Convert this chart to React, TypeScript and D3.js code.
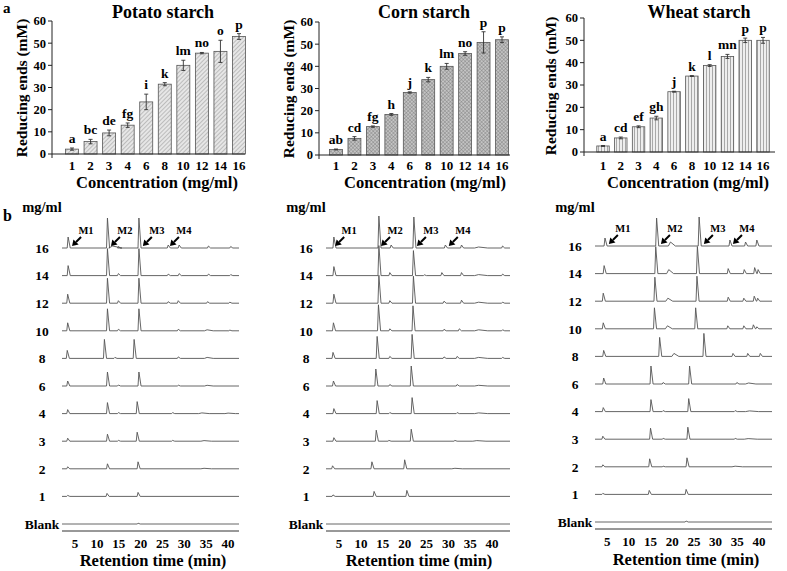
import React from 'react';
import * as d3 from 'd3';

// ---- panel a: reducing ends vs concentration ----
const concentrations = ['1', '2', '3', '4', '6', '8', '10', '12', '14', '16'];

const potatoMeans = [2.2, 5.6, 9.5, 13.0, 23.5, 31.5, 40.0, 45.5, 46.3, 53.0];
const potatoErrs = [0.5, 1.0, 1.3, 1.0, 3.5, 0.7, 2.3, 0.3, 5.0, 1.3];
const potatoLetters = ['a', 'bc', 'de', 'fg', 'i', 'k', 'lm', 'no', 'o', 'p'];

const cornMeans = [2.5, 7.5, 12.8, 18.3, 28.2, 34.0, 40.0, 45.8, 50.8, 52.0];
const cornErrs = [0.2, 0.8, 0.3, 0.4, 0.3, 1.0, 1.3, 0.8, 4.8, 1.3];
const cornLetters = ['ab', 'cd', 'fg', 'h', 'j', 'k', 'lm', 'no', 'p', 'p'];

const wheatMeans = [2.7, 6.3, 11.3, 15.2, 27.0, 34.0, 38.7, 42.8, 50.0, 50.0];
const wheatErrs = [0.2, 0.4, 0.4, 0.8, 0.2, 0.2, 0.4, 0.9, 1.0, 1.3];
const wheatLetters = ['a', 'cd', 'ef', 'gh', 'j', 'k', 'l', 'mn', 'p', 'p'];

const yTicks = [0, 10, 20, 30, 40, 50, 60];

// ---- panel b: chromatograms ----
const rowLabels = ['16', '14', '12', '10', '8', '6', '4', '3', '2', '1', 'Blank'];
const rtTicks = [5, 10, 15, 20, 25, 30, 35, 40];
const markerNames = ['M1', 'M2', 'M3', 'M4'];

// [retention time (min), signal, width]
type Peak = [number, number, number?];

const potatoPeaks: Peak[][] = [
  [[3.4, 11], [12.4, 30], [13.6, 2, 1.5], [14.9, 1.5], [19.6, 30], [26.3, 3], [28.8, 3], [35.5, 2], [40.6, 1.5]],
  [[3.4, 10], [12.4, 27], [14.9, 2], [19.6, 27], [26.3, 1.5], [28.8, 2], [35.5, 1.5], [40.6, 1]],
  [[3.3, 9], [12.4, 25], [14.9, 2.5], [19.6, 25], [26.3, 1.5], [28.6, 2.5], [35.3, 1.5], [40.4, 1]],
  [[3.3, 8], [12.4, 22], [14.9, 1.5], [19.6, 22], [28.6, 1.5], [35.2, 1, 1], [40.4, 0.7]],
  [[3.2, 8], [11.7, 19], [14.1, 1], [18.5, 19], [28.6, 1.5], [35.2, 1, 1]],
  [[3.3, 5], [12.4, 14], [14.9, 1], [19.6, 14], [28.6, 0.8], [35.2, 0.7, 1]],
  [[3.3, 4], [12.4, 11], [14.9, 1], [19.2, 12], [27.3, 1], [34.0, 0.7, 1.2], [40.0, 0.5, 1.2]],
  [[3.3, 3], [12.4, 7], [14.9, 0.8], [19.2, 9], [27.3, 0.8], [34.5, 0.6, 1.2]],
  [[3.3, 2], [12.4, 5], [19.4, 7], [34.5, 0.5, 1.2]],
  [[3.3, 1], [12.3, 3], [19.4, 4]],
  [[19.4, 0.8]],
];

const cornPeaks: Peak[][] = [
  [[3.8, 11], [14.1, 32], [16.9, 3], [22.1, 31], [29.3, 3], [33.0, 3], [36.9, 1, 1.5], [42.4, 2]],
  [[3.8, 9], [14.1, 30], [16.6, 3], [22.0, 25], [24.5, 0.8], [28.5, 3], [33.0, 3], [36.9, 1, 1.5], [42.4, 1.5]],
  [[3.8, 9], [14.1, 28], [16.6, 2.5], [22.0, 27], [29.0, 2], [33.0, 3], [36.9, 1, 1.5], [42.4, 1]],
  [[3.7, 8], [14.0, 26], [16.6, 2], [21.9, 25], [29.0, 1.5], [32.5, 2], [36.9, 1, 1.5], [42.4, 1]],
  [[3.6, 6], [13.7, 22], [16.6, 2], [21.7, 24], [29.0, 1.5], [32.0, 2], [36.9, 1, 1.5], [42.4, 1]],
  [[3.7, 5], [13.4, 17], [16.6, 1.5], [21.5, 20], [32.0, 1.5], [36.9, 0.7, 1.5]],
  [[3.8, 5], [13.7, 13], [16.6, 1], [21.7, 16], [32.0, 1], [36.9, 0.7, 1.5]],
  [[3.8, 3.5], [13.5, 11], [16.4, 0.8], [21.5, 12], [31.5, 0.8], [36.5, 0.6, 1.5]],
  [[3.5, 3], [12.5, 7], [20.0, 9], [31.5, 0.5, 1.2]],
  [[3.6, 1.5], [13.0, 5], [20.5, 6]],
  [],
];

const wheatPeaks: Peak[][] = [
  [[4.5, 8], [16.4, 28], [19.6, 4, 0.8], [26.2, 29], [33.3, 6], [36.9, 4], [39.5, 6]],
  [[4.3, 8], [16.2, 27], [19.2, 4, 0.8], [25.8, 27], [32.9, 5], [36.6, 4], [39.0, 6], [39.8, 4]],
  [[4.1, 8], [16.0, 24], [19.0, 3, 0.8], [25.7, 25], [32.9, 4], [36.5, 3], [38.9, 5], [39.7, 3]],
  [[4.1, 6], [15.9, 21], [18.9, 3, 0.8], [25.4, 21], [32.8, 3], [36.5, 3], [38.7, 4], [39.5, 2]],
  [[4.2, 6], [17.1, 19], [20.4, 3, 0.8], [27.3, 23], [34.0, 3], [37.4, 3], [40.3, 3]],
  [[4.2, 6], [15.1, 18], [17.9, 1.5], [24.0, 18], [34.9, 1.5], [37.6, 1, 1.2]],
  [[4.1, 4], [15.1, 12], [17.9, 1], [23.8, 13], [34.5, 1], [37.8, 0.7, 1.5]],
  [[4.0, 3], [15.0, 11], [17.9, 0.8], [23.6, 12], [34.5, 0.8], [37.5, 0.6, 1.5]],
  [[4.0, 2], [14.8, 8], [17.9, 0.6], [23.4, 9], [34.5, 0.6, 1.2]],
  [[4.0, 1], [14.7, 4], [23.2, 5]],
  [[23.2, 1]],
];

const potatoMarkers = [4.3, 13.2, 20.5, 26.7];
const cornMarkers = [4.1, 14.6, 22.8, 30.1];
const wheatMarkers = [5.4, 17.4, 27.3, 34.0];

const FONT = "'Liberation Serif', 'Times New Roman', serif";

type BarLayout = {
  axisX: number; axisEnd: number; y0: number; y60: number; first: number; last: number;
  titleX: number; yTitleX: number; yTitleY: number; xTitleX: number;
};

function BarPanel({ layout, means, errs, letters, title, fill }: {
  layout: BarLayout; means: number[]; errs: number[]; letters: string[]; title: string; fill: string;
}) {
  const step = (layout.last - layout.first) / (concentrations.length - 1);
  const x = d3.scaleBand<string>()
    .domain(concentrations)
    .range([layout.first - step / 2, layout.last + step / 2])
    .paddingInner(0.3)
    .paddingOuter(0.15);
  const y = d3.scaleLinear().domain([0, 60]).range([layout.y0, layout.y60]);
  const bw = x.bandwidth();

  return (
    <g fontFamily={FONT} fontWeight="bold" fill="#000">
      <text x={layout.titleX} y={18} fontSize={18} textAnchor="middle">{title}</text>
      {concentrations.map((c, i) => {
        const bx = x(c)!;
        const cx = bx + bw / 2;
        const top = y(means[i] + errs[i]);
        const bot = y(means[i] - errs[i]);
        return (
          <g key={c}>
            <rect x={bx} y={y(means[i])} width={bw} height={y(0) - y(means[i])}
              fill={fill} stroke="#555" strokeWidth={0.8} />
            <line x1={cx} x2={cx} y1={top} y2={bot} stroke="#333" strokeWidth={0.9} />
            <line x1={cx - 2} x2={cx + 2} y1={top} y2={top} stroke="#333" strokeWidth={0.9} />
            <line x1={cx - 2} x2={cx + 2} y1={bot} y2={bot} stroke="#333" strokeWidth={0.9} />
            <text x={cx} y={top - 5} fontSize={13.5} textAnchor="middle">{letters[i]}</text>
            <text x={cx} y={170} fontSize={13} textAnchor="middle">{c}</text>
          </g>
        );
      })}
      <line x1={layout.axisX} x2={layout.axisX} y1={y(0)} y2={y(60)} stroke="#222" strokeWidth={1} />
      <line x1={layout.axisX} x2={layout.axisEnd} y1={y(0)} y2={y(0)} stroke="#222" strokeWidth={1} />
      <line x1={layout.axisX} x2={layout.axisX} y1={y(0)} y2={y(0) + 4} stroke="#222" strokeWidth={1} />
      {yTicks.map(t => (
        <g key={t}>
          <line x1={layout.axisX - 4} x2={layout.axisX} y1={y(t)} y2={y(t)} stroke="#222" strokeWidth={1} />
          <text x={layout.axisX - 6} y={y(t)} dy="0.35em" fontSize={12.5} textAnchor="end">{t}</text>
        </g>
      ))}
      <text transform={`translate(${layout.yTitleX},${layout.yTitleY}) rotate(-90)`} dy="0.35em"
        fontSize={15.5} textAnchor="middle">Reducing ends (mM)</text>
      <text x={layout.xTitleX} y={188} fontSize={16.5} textAnchor="middle">Concentration (mg/ml)</text>
    </g>
  );
}

type ChromLayout = {
  left: number; right: number; domain: [number, number]; top: number; bottom: number;
  labelX: number; titleX: number; tickY: number; titleY: number;
};

function ChromPanel({ layout, peaks, markers }: { layout: ChromLayout; peaks: Peak[][]; markers: number[] }) {
  const x = d3.scaleLinear().domain(layout.domain).range([layout.left, layout.right]);
  const row = d3.scalePoint<string>().domain(rowLabels).range([layout.top, layout.bottom]);
  const amp = d3.scaleLinear().domain([0, 32]).range([0, 32]);
  const axisY = layout.bottom + 7;

  const tracePath = (list: Peak[], base: number) => {
    const pts: [number, number][] = [[layout.domain[0], 0]];
    list.slice().sort((a, b) => a[0] - b[0]).forEach(([t, h, w]) => {
      const ww = w ?? 0.35;
      pts.push([t - ww * 0.6, 0], [t, h], [t + ww * 1.4, 0]);
    });
    pts.push([layout.domain[1], 0]);
    return d3.line<[number, number]>()
      .x(d => x(d[0]))
      .y(d => base - amp(d[1]))(pts) ?? '';
  };

  const topBase = row('16')!;

  return (
    <g fontFamily={FONT} fontWeight="bold" fill="#000">
      <text x={layout.labelX} y={212} fontSize={14.5} textAnchor="middle">mg/ml</text>
      {rowLabels.map((r, i) => (
        <g key={r}>
          <text x={layout.labelX} y={row(r)!} dy="0.35em" fontSize={13.5} textAnchor="middle">{r}</text>
          <path d={tracePath(peaks[i], row(r)!)} fill="none" stroke="#555" strokeWidth={0.9}
            strokeLinejoin="round" />
        </g>
      ))}
      {markers.map((m, i) => {
        const hx = x(m);
        const hy = topBase - 2;
        const tx = hx + 9, ty = hy - 9;
        const bcx = hx + 4, bcy = hy - 4;
        return (
          <g key={i}>
            <line x1={tx} y1={ty} x2={bcx} y2={bcy} stroke="#000" strokeWidth={2} />
            <polygon points={`${hx},${hy} ${bcx + 2.6},${bcy + 2.6} ${bcx - 2.6},${bcy - 2.6}`} fill="#000" />
            <text x={hx + 14} y={topBase - 14} fontSize={10.5} textAnchor="middle">{markerNames[i]}</text>
          </g>
        );
      })}
      <line x1={layout.left} x2={layout.right} y1={axisY} y2={axisY} stroke="#333" strokeWidth={1} />
      {rtTicks.map(t => (
        <text key={t} x={x(t)} y={layout.tickY} fontSize={13} textAnchor="middle">{t}</text>
      ))}
      <text x={layout.titleX} y={layout.titleY} fontSize={16.5} textAnchor="middle">Retention time (min)</text>
    </g>
  );
}

export default function App() {
  return (
    <svg width={787} height={571} style={{ position: 'absolute', left: 0, top: 0, background: '#fff' }}>
      <defs>
        <pattern id="hatchPotato" width={3} height={3} patternUnits="userSpaceOnUse" patternTransform="rotate(45)">
          <rect width={3} height={3} fill="#e6e6e6" />
          <line x1={0} y1={0} x2={0} y2={3} stroke="#8a8a8a" strokeWidth={0.9} />
        </pattern>
        <pattern id="hatchCorn" width={2.6} height={2.6} patternUnits="userSpaceOnUse" patternTransform="rotate(45)">
          <rect width={2.6} height={2.6} fill="#c4c4c4" />
          <line x1={0} y1={0} x2={0} y2={2.6} stroke="#7a7a7a" strokeWidth={0.8} />
          <line x1={0} y1={0} x2={2.6} y2={0} stroke="#7a7a7a" strokeWidth={0.8} />
        </pattern>
        <pattern id="hatchWheat" width={3} height={3} patternUnits="userSpaceOnUse">
          <rect width={3} height={3} fill="#eeeeee" />
          <line x1={1.5} y1={0} x2={1.5} y2={3} stroke="#a8a8a8" strokeWidth={1} />
        </pattern>
      </defs>
      <g fontFamily={FONT} fontWeight="bold">
        <text x={3} y={13} fontSize={15}>a</text>
        <text x={3} y={221} fontSize={16}>b</text>
      </g>
      <BarPanel title="Potato starch" means={potatoMeans} errs={potatoErrs} letters={potatoLetters}
        fill="url(#hatchPotato)"
        layout={{ axisX: 52, axisEnd: 245, y0: 154, y60: 21, first: 72, last: 239, titleX: 163, yTitleX: 22, yTitleY: 88, xTitleX: 157 }} />
      <BarPanel title="Corn starch" means={cornMeans} errs={cornErrs} letters={cornLetters}
        fill="url(#hatchCorn)"
        layout={{ axisX: 319, axisEnd: 510, y0: 155, y60: 22, first: 336, last: 502, titleX: 424, yTitleX: 289, yTitleY: 89, xTitleX: 425 }} />
      <BarPanel title="Wheat starch" means={wheatMeans} errs={wheatErrs} letters={wheatLetters}
        fill="url(#hatchWheat)"
        layout={{ axisX: 584, axisEnd: 775, y0: 152, y60: 18, first: 603, last: 763, titleX: 699, yTitleX: 551, yTitleY: 86, xTitleX: 688 }} />

      <ChromPanel peaks={potatoPeaks} markers={potatoMarkers}
        layout={{ left: 62, right: 239, domain: [2, 42.5], top: 248, bottom: 524, labelX: 42, titleX: 153, tickY: 548, titleY: 566 }} />
      <ChromPanel peaks={cornPeaks} markers={cornMarkers}
        layout={{ left: 326, right: 510, domain: [2, 44.1], top: 248, bottom: 524, labelX: 306, titleX: 419, tickY: 548, titleY: 566 }} />
      <ChromPanel peaks={wheatPeaks} markers={wheatMarkers}
        layout={{ left: 595, right: 772, domain: [2.2, 43], top: 246, bottom: 522, labelX: 575, titleX: 686, tickY: 546, titleY: 565 }} />
    </svg>
  );
}
